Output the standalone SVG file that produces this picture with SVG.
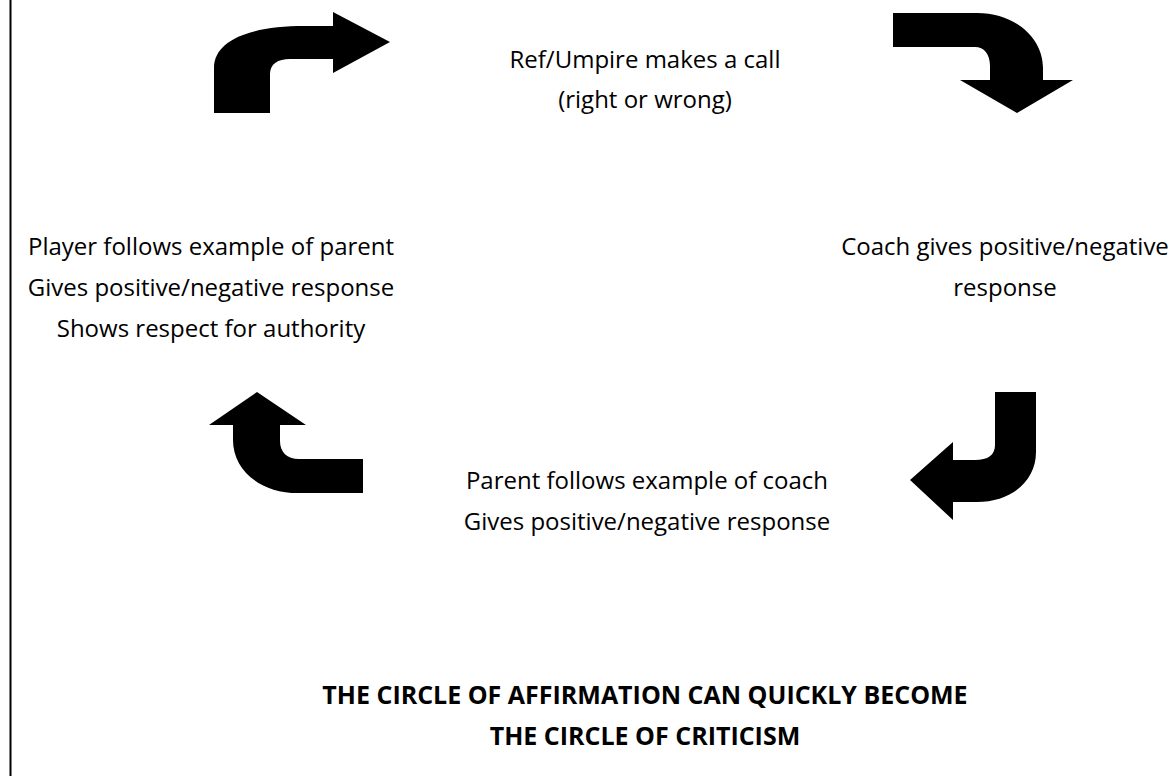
<svg xmlns="http://www.w3.org/2000/svg" width="1176" height="776" viewBox="0 0 1176 776">
<style>
.t{font-family:"Open Sans","Noto Sans",sans-serif;font-size:24px;fill:#000;text-anchor:middle}
.b{font-weight:bold;font-size:25px}
.arrow{fill:#000;stroke:none}
</style>
<rect x="0" y="0" width="1176" height="776" fill="#fff"/>
<line x1="10.5" y1="0" x2="10.5" y2="776" stroke="#000" stroke-width="2"/>
<g id="connectors">
<path id="arrow-top-left" class="arrow" d="M214 113 L214 68 C214 40 250 26 305 26 L333 26 L333 12 L390 42 L333 73 L333 59 L290 59 C278 59 270 64 270 74 L270 113 Z"/>
<path id="arrow-top-right" class="arrow" d="M893 13 L977 13 C1015 13 1043 38 1043 68 L1043 80 L1073 80 L1017 113 L960 80 L990 80 L990 66 C990 54 984 47 975 47 L893 47 Z"/>
<path id="arrow-bottom-right" class="arrow" d="M995 392 L1036 392 L1036 452 C1036 482 1010 502 977 502 L953 502 L953 520 L910 480 L953 442 L953 460 L975 460 C988 460 995 455 995 445 Z"/>
<path id="arrow-bottom-left" class="arrow" d="M257 392 L306 425 L280 425 L280 441 C280 452 287 459 299 459 L363 459 L363 493 L298 493 C260 493 233 470 233 440 L233 425 L209 425 Z"/>
</g>
<g id="node-ref">
<text class="t" x="645" y="68">Ref/Umpire makes a call</text>
<text class="t" x="645" y="108">(right or wrong)</text>
</g>
<g id="node-coach">
<text class="t" x="1005" y="255">Coach gives positive/negative</text>
<text class="t" x="1005" y="296">response</text>
</g>
<g id="node-parent">
<text class="t" x="647" y="489">Parent follows example of coach</text>
<text class="t" x="647" y="530">Gives positive/negative response</text>
</g>
<g id="node-player">
<text class="t" x="211" y="255">Player follows example of parent</text>
<text class="t" x="211" y="296">Gives positive/negative response</text>
<text class="t" x="211" y="337">Shows respect for authority</text>
</g>
<g id="title">
<text class="t b" x="645" y="704">THE CIRCLE OF AFFIRMATION CAN QUICKLY BECOME</text>
<text class="t b" x="645" y="745">THE CIRCLE OF CRITICISM</text>
</g>
</svg>
